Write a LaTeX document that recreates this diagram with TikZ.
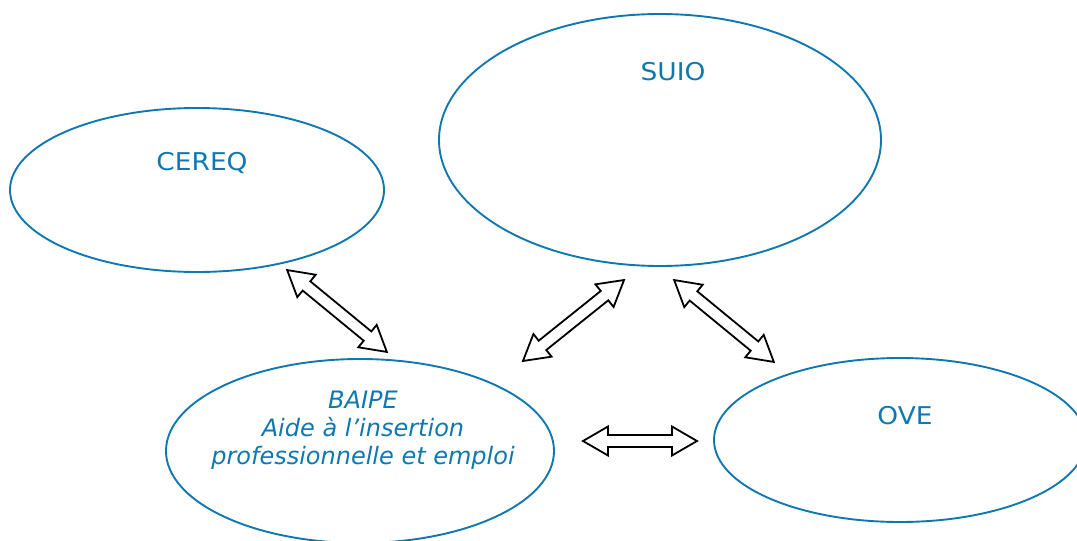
\documentclass[tikz,border=0pt]{standalone}
\usepackage{fontspec}
\setmainfont{DejaVu Sans}
\newfontfamily\widefont[FakeStretch=1.08]{DejaVu Sans}
\usetikzlibrary{shapes.geometric}
\definecolor{bluec}{RGB}{16,120,176}
\newcommand{\blockdblarrow}[5]{% name, mid, angle, length, unused
  \coordinate (#1) at #2;
  \begin{scope}[shift={#2}, rotate=#3]
    \draw[arrowshape] (-#4/2,0) -- ++(25,14.5) -- ++(0,-8.5) -- (#4/2-25,6) -- ++(0,8.5)
      -- (#4/2,0) -- ++(-25,-14.5) -- ++(0,8.5) -- (-#4/2+25,-6) -- ++(0,-8.5) -- cycle;
  \end{scope}}
\begin{document}
\begin{tikzpicture}[x=1pt,y=-1pt,
  bubble/.style={draw=bluec, line width=1.9pt, ellipse, inner sep=0pt},
  lbl/.style={text=bluec, font=\widefont\fontsize{24.5}{28}\selectfont, align=center, inner sep=0pt, anchor=base},
  arrowshape/.style={draw=black, line width=1.8pt, fill=white, line join=miter}]
\useasboundingbox (0,0) rectangle (1077,541);
\node[bubble, minimum width=374pt, minimum height=164pt] (cereq) at (197,190) {};
\node[bubble, minimum width=442pt, minimum height=252pt] (suio) at (660,140) {};
\node[bubble, minimum width=388pt, minimum height=184pt] (baipe) at (360,451) {};
\node[bubble, minimum width=372pt, minimum height=164pt] (ove) at (900,440) {};
\node[lbl] (tcereq) at (202,170) {CEREQ};
\node[lbl] (tsuio) at (673,80) {SUIO};
\node[lbl] (tove) at (905,424) {OVE};
\node[lbl, font=\fontsize{24}{28}\selectfont\itshape] (tbaipe) at (363,464) {BAIPE\\Aide à l’insertion\\professionnelle et emploi};
\blockdblarrow{a1}{(337,311)}{-39.4}{129}{}
\blockdblarrow{a2}{(573.5,320.5)}{38.7}{129.5}{}
\blockdblarrow{a3}{(724,321)}{-39.4}{129}{}
\blockdblarrow{a4}{(640,441)}{0}{114}{}
\end{tikzpicture}
\end{document}
